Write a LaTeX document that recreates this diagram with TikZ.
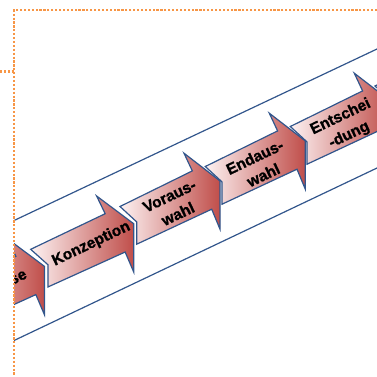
\documentclass[tikz,border=0pt]{standalone}
\usepackage{fontspec}
\setmainfont{Liberation Sans}
\newfontfamily\lblfont[FakeBold=1.2]{Liberation Sans Bold}
\definecolor{outl}{RGB}{50,86,140}
\definecolor{arlight}{RGB}{253,242,242}
\definecolor{ardark}{RGB}{192,78,74}
\definecolor{framecol}{RGB}{247,150,70}
\tikzset{
 arrowshape/.style={draw=outl, line width=1.2pt, line join=miter, left color=arlight, right color=ardark},
 band/.style={draw=outl, line width=1.2pt},
 frameline/.style={draw=framecol, line width=2.6pt, dash pattern=on 2.2pt off 1.7pt},
 lbl/.style={font=\lblfont\fontsize{15.5}{20}\selectfont, align=center, rotate=25.5, inner sep=0pt, text=black}
}
\newcommand\procarrow[3]{%
  \begin{scope}[shift={(#1,#2)}, xscale=#3]
    \path[arrowshape] (0,0) -- (72.3,-35.6) -- (64,-53.3) -- (100,-25.6) -- (100,22.7)
      -- (91.7,2.7) -- (16.7,37.7) -- (16.7,15.4) -- cycle;
  \end{scope}}
\begin{document}
\begin{tikzpicture}[x=1pt,y=-1pt]
\useasboundingbox (0,0) rectangle (377,376);
\begin{scope}
  \clip (14,10) rectangle (377,376);
  \coordinate (u1) at (13,221);
  \coordinate (u2) at (377,49);
  \coordinate (l1) at (13,341);
  \coordinate (l2) at (377,168);
  \draw[band] (u1) -- (u2);
  \draw[band] (l1) -- (l2);
  \procarrow{-58.6}{291.9}{1.03}
  \procarrow{30.7}{249.3}{1.03}
  \procarrow{120}{206.5}{1}
  \procarrow{205.3}{166.5}{1}
  \procarrow{290.3}{126.5}{1}
  \procarrow{375}{86}{1}
  \node[lbl, anchor=base east] (t0) at (28,277.5) {se};
  \node[lbl] (t1) at (91.3,244) {Konzeption};
  \node[lbl] (t2) at (173.7,205) {Voraus-\\wahl};
  \node[lbl] (t3) at (259,166) {Endaus-\\wahl};
  \node[lbl] (t4) at (345,126) {Entschei\\-dung};
\end{scope}
\coordinate (f1) at (14,10);
\coordinate (f2) at (377,10);
\coordinate (f3) at (14,376);
\coordinate (f4) at (0,71.7);
\coordinate (f5) at (14,71.7);
\draw[frameline] (f2) -- (f1) -- (f3);
\draw[frameline] (f4) -- (f5);
\end{tikzpicture}
\end{document}
